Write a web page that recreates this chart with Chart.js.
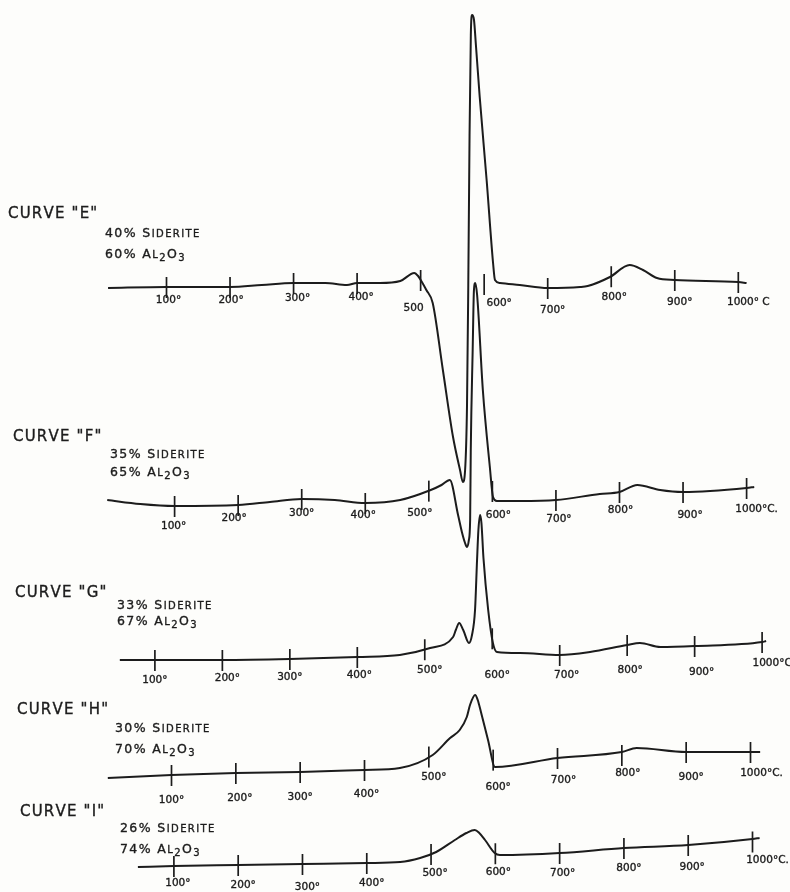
<!DOCTYPE html>
<html>
<head>
<meta charset="utf-8">
<script src="https://cdn.jsdelivr.net/npm/chart.js@4.4.1/dist/chart.umd.min.js"></script>
<style>
    html, body { margin: 0; padding: 0; background: #fdfdfb; }
    #wrap { width: 790px; height: 892px; position: relative; }
</style>
</head>
<body>
<div id="wrap"><canvas id="dta"></canvas></div>
<script>
// DTA curves, siderite diluted with alumina. deflection is in arbitrary units, + = exothermic
var tickTemps = [100, 200, 300, 400, 500, 600, 700, 800, 900, 1000];

var curveNames = ['E', 'F', 'G', 'H', 'I'];
var sideritePct = [40, 35, 33, 30, 26];
var aluminaPct = [60, 65, 67, 70, 74];

var tempE = [8, 100, 200, 250, 300, 350, 384, 400, 436, 468, 490, 496, 502, 509, 519, 535, 551, 562, 566.5, 570, 573, 575, 577, 579, 581, 584, 587, 593, 604, 614, 617, 625, 656, 700, 751, 763, 798, 829, 850, 872, 900, 1000, 1013];
var deflE = [-3, -2, -2, 0, 2, 2, 0, 2, 2, 4, 12, 9, 3, -5, -18, -85, -152, -185, -197, -185, -120, 0, 150, 250, 270, 265, 240, 188, 104, 22, 5, 2, 0, -3, -2, -1, 8, 20, 15, 7, 5, 3, 2];
var labelsE = ['100°', '200°', '300°', '400°', '500', '600°', '700°', '800°', '900°', '1000° C'];

var tempF = [-6, 46, 100, 200, 250, 300, 352, 400, 455, 503, 520, 533, 546, 552, 557, 560, 563, 565, 566, 569, 571, 573, 576, 585, 596, 601, 607, 643, 700, 769, 800, 828, 864, 900, 1000, 1012];
var deflF = [5, 1, -1, 0, 3, 6, 5, 2, 5, 15, 20, 25, -10, -27, -38, -42, -35, -15, 55, 155, 215, 222, 210, 115, 38, 8, 4, 4, 5, 11, 13, 20, 15, 13, 17, 18];
var labelsF = ['100°', '200°', '300°', '400°', '500°', '600°', '700°', '800°', '900°', '1000°C.'];

var tempG = [48, 100, 200, 300, 400, 463, 508, 542, 546, 551, 557, 565.5, 570, 574.5, 577.5, 579.5, 582, 584, 587, 594, 601, 607, 641, 700, 745, 800, 819, 849, 900, 1000, 1006];
var deflG = [-2, -2, -2, -1, 1, 3, 10, 21, 28, 35, 28, 15, 23, 48, 98, 128, 143, 135, 100, 48, 15, 6, 5, 3, 6, 13, 15, 11, 12, 16, 17];
var labelsG = ['100°', '200°', '300°', '400°', '500°', '600°', '700°', '800°', '900°', '1000°C'];

var tempH = [1, 100, 200, 300, 400, 455, 506, 533, 548, 559, 564, 572, 576, 581, 592, 603, 700, 800, 823, 900, 1000, 1015];
var deflH = [-3, 0, 2, 3, 5, 7, 20, 37, 45, 58, 70, 80, 75, 63, 35, 8, 17, 23, 27, 23, 23, 23];
var labelsH = ['100°', '200°', '300°', '400°', '500°', '600°', '700°', '800°', '900°', '1000°C.'];

var tempI = [44, 100, 200, 300, 400, 452, 483, 508, 537, 555, 568, 575, 584, 599, 607, 700, 800, 900, 1000, 1011];
var deflI = [-1, 0, 1, 2, 3, 4, 8, 14, 26, 33, 36, 33, 26, 13, 11, 13, 18, 21, 27, 28];
var labelsI = ['100°', '200°', '300°', '400°', '500°', '600°', '700°', '800°', '900°', '1000°C.'];

// page layout (pixels), one entry per curve
var W = 790, H = 892;
var axisX100 = [166.5, 174.6, 154.9, 171.5, 173.9];
var axisX1000 = [738.3, 746.6, 762.1, 750.5, 752.5];
var baseY = [285, 505, 658, 775, 866];
var labelDx = [
    [2, 1, 4, 4, -7, 15, 5, 3, 5, 10],
    [-1, -4, 0, -2, -9, 6, 3, 1, 7, 10],
    [0, 5, 0, 2, 5, 5, 7, 3, 7, 10],
    [0, 4, 0, 2, 5, 5, 6, 6, 5, 11],
    [4, 5, 5, 5, 4, 3, 3, 5, 4, 15]
];
var labelY = [
    [300, 300, 298, 297, 308, 303, 310, 297, 302, 302],
    [526, 518, 513, 515, 513, 515, 519, 510, 515, 509],
    [680, 678, 677, 675, 670, 675, 675, 670, 672, 663],
    [800, 798, 797, 794, 777, 787, 780, 773, 777, 773],
    [883, 885, 887, 883, 873, 872, 873, 868, 867, 860]
];
// [title x, title baseline, note x, note line 1 baseline, note line 2 baseline]
var titleBox = [
    [8, 218, 105, 237, 258],
    [13, 441, 110, 458, 476],
    [15, 597, 117, 609, 625],
    [17, 714, 115, 732, 753],
    [20, 816, 120, 832, 853]
];

var temps = [tempE, tempF, tempG, tempH, tempI];
var defls = [deflE, deflF, deflG, deflH, deflI];
var tickLabels = [labelsE, labelsF, labelsG, labelsH, labelsI];

var ink = '#1c1c1c';
var font = '"DejaVu Sans", sans-serif';

var valueAt = function (ts, ds, t) {
    for (var i = 1; i < ts.length; i++) {
        if (t <= ts[i]) {
            var f = (t - ts[i - 1]) / (ts[i] - ts[i - 1]);
            return ds[i - 1] + f * (ds[i] - ds[i - 1]);
        }
    }
    return ds[ds.length - 1];
};

// hand lettering is a bit heavier than the font, so fill + thin stroke
var inkText = function (ctx, s, x, y) {
    ctx.fillText(s, x, y);
    ctx.strokeText(s, x, y);
};

// draws text runs char by char, runs = [[text, size, dy]]
var drawRuns = function (ctx, x, y, runs, spacing) {
    runs.forEach(function (r) {
        ctx.font = r[1] + 'px ' + font;
        for (var k = 0; k < r[0].length; k++) {
            var ch = r[0][k];
            inkText(ctx, ch, x, y + (r[2] || 0));
            x += ctx.measureText(ch).width + spacing;
        }
    });
};

var datasets = [];
var scales = {};
curveNames.forEach(function (n, i) {
    var s = (axisX1000[i] - axisX100[i]) / 900;
    var xmin = 100 - axisX100[i] / s;
    scales['x' + n] = { type: 'linear', display: false, min: xmin, max: xmin + W / s };
    scales['y' + n] = { type: 'linear', display: false, min: -(H - baseY[i]), max: baseY[i] };
    datasets.push({
        label: 'Curve ' + n,
        xAxisID: 'x' + n,
        yAxisID: 'y' + n,
        data: temps[i].map(function (t, k) { return { x: t, y: defls[i][k] }; }),
        borderColor: ink,
        borderWidth: 2,
        pointRadius: 0,
        fill: false,
        cubicInterpolationMode: 'monotone'
    });
});

var paper = {
    id: 'paper',
    beforeDraw: function (chart) {
        var ctx = chart.ctx;
        ctx.save();
        ctx.fillStyle = '#fdfdfb';
        ctx.fillRect(0, 0, chart.width, chart.height);
        ctx.restore();
    },
    afterDatasetsDraw: function (chart) {
        var ctx = chart.ctx;
        ctx.save();
        ctx.strokeStyle = ink;
        ctx.fillStyle = ink;
        curveNames.forEach(function (n, i) {
            var xs = chart.scales['x' + n];
            var ys = chart.scales['y' + n];

            // temperature ticks sit on the base line
            tickTemps.forEach(function (t, k) {
                var d = valueAt(temps[i], defls[i], t);
                if (Math.abs(d) > 22) {
                    d = (valueAt(temps[i], defls[i], t - 100) + valueAt(temps[i], defls[i], t + 100)) / 2;
                }
                var px = xs.getPixelForValue(t);
                var py = ys.getPixelForValue(d);
                ctx.lineWidth = 1.7;
                ctx.beginPath();
                ctx.moveTo(px, py - 10);
                ctx.lineTo(px, py + 11);
                ctx.stroke();

                ctx.lineWidth = 0.35;
                ctx.font = '10.5px ' + font;
                ctx.textAlign = 'center';
                ctx.textBaseline = 'middle';
                inkText(ctx, tickLabels[i][k], px + labelDx[i][k], labelY[i][k]);
            });

            // curve title and mixture
            var b = titleBox[i];
            ctx.lineWidth = 0.35;
            ctx.textAlign = 'left';
            ctx.textBaseline = 'alphabetic';
            drawRuns(ctx, b[0], b[1], [['CURVE "' + n + '"', 15]], 1.2);
            drawRuns(ctx, b[2], b[3], [[sideritePct[i] + '% ', 12.5], ['S', 12.5], ['IDERITE', 10]], 1.4);
            drawRuns(ctx, b[2], b[4], [[aluminaPct[i] + '% ', 12.5], ['A', 12.5], ['L', 10], ['2', 10, 3], ['O', 12.5], ['3', 10, 3]], 1.4);
        });
        ctx.restore();
    }
};

var chart = new Chart(document.getElementById('dta'), {
    type: 'line',
    data: { datasets: datasets },
    options: {
        responsive: true,
        maintainAspectRatio: false,
        animation: false,
        layout: { padding: 0 },
        scales: scales,
        plugins: {
            legend: { display: false },
            tooltip: { enabled: false }
        }
    },
    plugins: [paper]
});
</script>
</body>
</html>
